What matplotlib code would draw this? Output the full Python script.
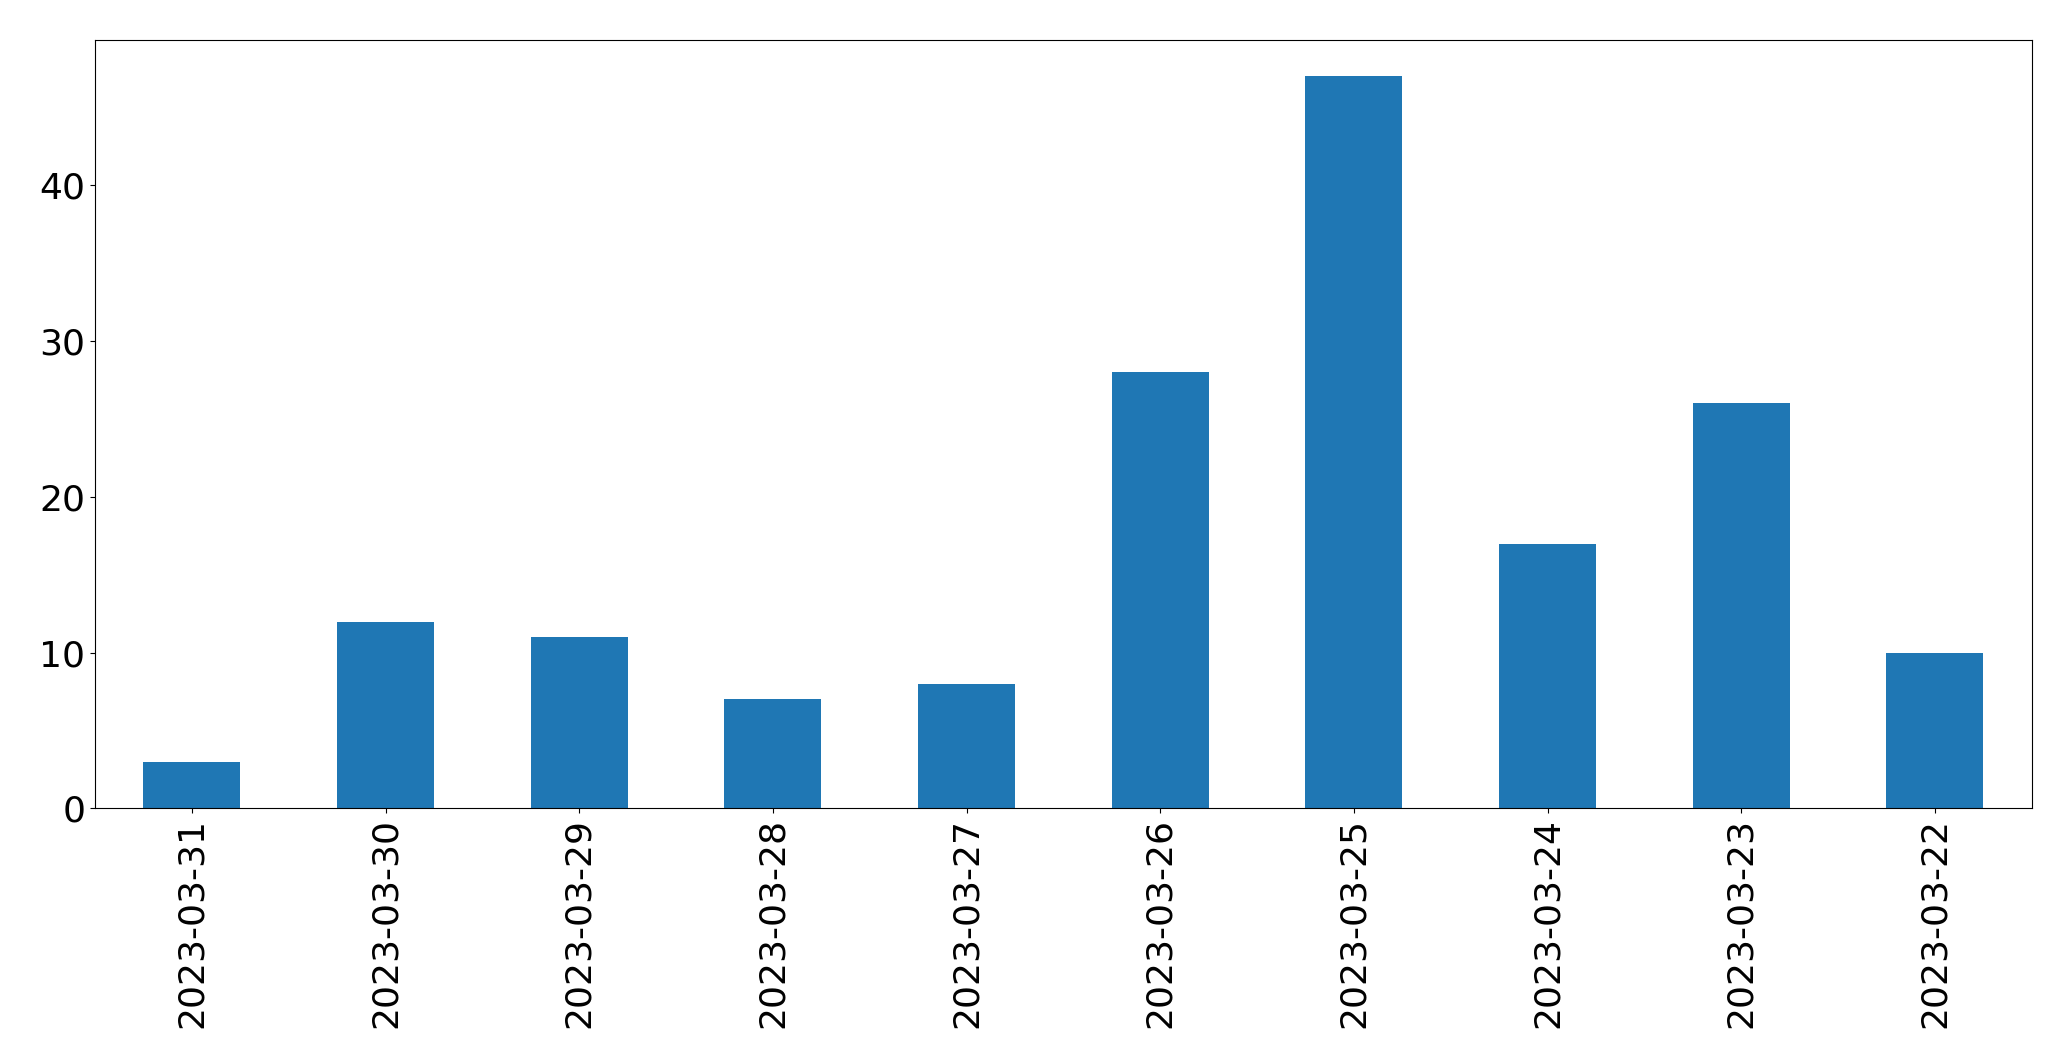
import matplotlib
matplotlib.use("Agg")
import matplotlib.pyplot as plt

dates = ["2023-03-31","2023-03-30","2023-03-29","2023-03-28","2023-03-27",
         "2023-03-26","2023-03-25","2023-03-24","2023-03-23","2023-03-22"]
counts = [3, 12, 11, 7, 8, 28, 47, 17, 26, 10]

fig = plt.figure(figsize=(20.71, 10.61), dpi=100)
ax = fig.add_axes([0.0459, 0.238, 0.981-0.0459, 0.9626-0.238])
x = range(len(dates))
ax.bar(x, counts, width=0.5, color="#1f77b4")
ax.set_xlim(-0.5, len(dates)-0.5)
ax.set_xticks(list(x))
ax.set_xticklabels(dates, rotation=90)
ax.set_yticks([0, 10, 20, 30, 40])
ax.tick_params(labelsize=26)
fig.savefig("out.png", dpi=100)
